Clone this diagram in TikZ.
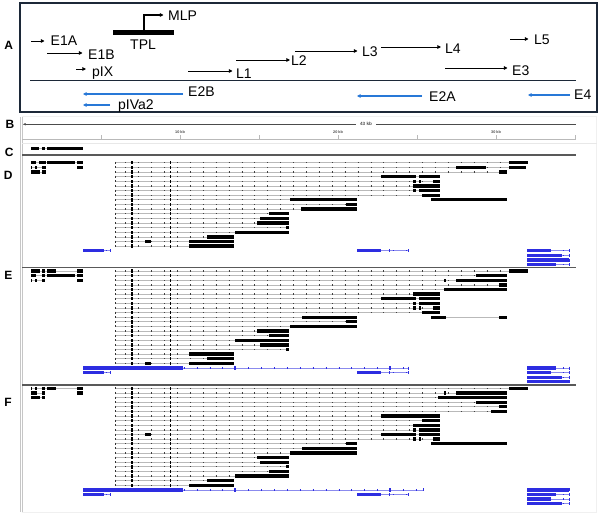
\documentclass[tikz,border=0pt]{standalone}
\usepackage{fontspec}
\setmainfont{Liberation Sans}
\usetikzlibrary{arrows.meta}
\definecolor{navy}{RGB}{28,40,56}
\definecolor{ablue}{RGB}{40,120,215}
\definecolor{igvb}{RGB}{45,45,225}
% late transcript row: y, end, exon list
\newcommand\lrow[3]{%
  \draw[intr] (115,#1) -- (#2,#1);
  \draw[tks] (115,#1) -- (#2,#1);
  \draw[gray!40!black, line width=0.5pt] (115,#1-1) -- (115,#1+1);
  \fill (131.3,#1-1.7) rectangle (132.7,#1+1.7);
  \fill (169.7,#1-1.4) rectangle (170.8,#1+1.4);
  \foreach \a/\b in {#3} {\fill (\a,#1-1.65) rectangle (\b,#1+1.65);}%
}
% extra black transcript on a row: y, start, end, exons
\newcommand\xrow[4]{%
  \draw[intr] (#2,#1) -- (#3,#1);
  \foreach \a/\b in {#4} {\fill (\a,#1-1.65) rectangle (\b,#1+1.65);}%
}
% blue transcript: y, start, end, exons
\newcommand\brow[4]{%
  \draw[bintr] (#2,#1) -- (#3,#1);
  \draw[btks] (#2,#1) -- (#3,#1);
  \draw[igvb, line width=0.6pt] (#3,#1-1.5) -- (#3,#1+1.5);
  \foreach \a/\b in {#4} {\fill[igvb] (\a,#1-1.65) rectangle (\b,#1+1.65);}%
}
\begin{document}
\begin{tikzpicture}[x=1pt,y=-1pt,
  gtxt/.style={font=\fontsize{14}{16}\selectfont, anchor=base west, inner sep=0pt},
  plabel/.style={font=\fontsize{12}{14}\selectfont\bfseries, inner sep=0pt},
  arr/.style={line width=0.9pt, -{Triangle[length=3.6pt,width=3.6pt]}},
  barr/.style={arr, draw=ablue, fill=ablue, line width=1.1pt},
  intr/.style={draw=gray!55, line width=0.7pt},
  tks/.style={draw=gray!50!black, line width=1.3pt, dash pattern=on 0.6pt off 12.3pt, dash phase=2.5pt},
  bintr/.style={draw=igvb!55, line width=0.7pt},
  btks/.style={draw=igvb, line width=1.3pt, dash pattern=on 0.6pt off 12.3pt, dash phase=2.5pt},
  sep/.style={draw=gray!70!black, line width=1.2pt},
  tinyt/.style={font=\fontsize{3.8}{4}\selectfont\bfseries, inner sep=0pt, text=gray!60!black}
]
\useasboundingbox (0,0) rectangle (600,516);
\fill[white] (0,0) rectangle (600,516);

% ---------------- panel A ----------------
\draw[navy, line width=2pt] (20,3) rectangle (597,112);
\node[plabel] (labA) at (8.7,45.2) {A};

\coordinate (e1a0) at (31,41);   \coordinate (e1a1) at (44.5,41);
\draw[arr] (e1a0) -- (e1a1);
\node[gtxt] (tE1A) at (50.5,46) {E1A};
\coordinate (e1b0) at (47,53);   \coordinate (e1b1) at (82.5,53);
\draw[arr] (e1b0) -- (e1b1);
\node[gtxt] (tE1B) at (88,59.3) {E1B};
\coordinate (pix0) at (76,69);   \coordinate (pix1) at (86,69);
\draw[arr] (pix0) -- (pix1);
\node[gtxt] (tpIX) at (92,76.5) {pIX};

\coordinate (tpl0) at (113,33);  \coordinate (tpl1) at (174,33);
\draw[line width=5pt] (tpl0) -- (tpl1);
\coordinate (mlp0) at (144,30.5); \coordinate (mlp1) at (163.5,15);
\draw[arr, line width=1.1pt] (mlp0) |- (mlp1);
\node[gtxt] (tMLP) at (168,20.5) {MLP};
\node[gtxt] (tTPL) at (130,50) {TPL};

\coordinate (l10) at (188,71);   \coordinate (l11) at (232.5,71);
\draw[arr] (l10) -- (l11);
\node[gtxt] (tL1) at (236,78.5) {L1};
\coordinate (l20) at (236,60);   \coordinate (l21) at (290,60);
\draw[arr] (l20) -- (l21);
\node[gtxt] (tL2) at (291,65.5) {L2};
\coordinate (l30) at (295,51);   \coordinate (l31) at (357.5,51);
\draw[arr] (l30) -- (l31);
\node[gtxt] (tL3) at (362,56.5) {L3};
\coordinate (l40) at (381,47);   \coordinate (l41) at (441,47);
\draw[arr] (l40) -- (l41);
\node[gtxt] (tL4) at (445,53.3) {L4};
\coordinate (l50) at (510,39);   \coordinate (l51) at (528.5,39);
\draw[arr] (l50) -- (l51);
\node[gtxt] (tL5) at (534,44.3) {L5};
\coordinate (e30) at (445,68);   \coordinate (e31) at (507.5,68);
\draw[arr] (e30) -- (e31);
\node[gtxt] (tE3) at (512,75.7) {E3};

\coordinate (gen0) at (30,81);   \coordinate (gen1) at (576,81);
\draw[line width=1pt, navy] (gen0) -- (gen1);

\coordinate (e2b0) at (183,94);  \coordinate (e2b1) at (83,94);
\draw[barr] (e2b0) -- (e2b1);
\node[gtxt] (tE2B) at (188,96.5) {E2B};
\coordinate (p4a0) at (110,105); \coordinate (p4a1) at (83,105);
\draw[barr] (p4a0) -- (p4a1);
\node[gtxt] (tpIVa2) at (118,110) {pIVa2};
\coordinate (e2a0) at (422,96);  \coordinate (e2a1) at (357,96);
\draw[barr] (e2a0) -- (e2a1);
\node[gtxt] (tE2A) at (429,101.5) {E2A};
\coordinate (e40) at (570,95);   \coordinate (e41) at (528,95);
\draw[barr] (e40) -- (e41);
\node[gtxt] (tE4) at (574,99.3) {E4};

% ---------------- browser frame ----------------
\draw[gray!12, line width=0.8pt] (22,116) rectangle (596,512);
\draw[gray!45, line width=0.6pt] (20.5,117) -- (20.5,512);
\draw[gray!45, line width=0.6pt] (22.3,117) -- (22.3,512);

% ---------------- panel B ----------------
\node[plabel] (labB) at (10,124) {B};
\coordinate (rul0) at (23,124.3); \coordinate (rul1) at (576,124.3);
\draw[gray!60!black, line width=0.5pt, {Triangle[length=2.5pt,width=2.2pt]}-] (rul0) -- (rul1);
\node[tinyt, font=\fontsize{4.6}{5}\selectfont\bfseries, fill=white, inner xsep=4pt, inner ysep=1pt] (t43) at (366,124.3) {43 kb};
\draw[gray!55, line width=0.7pt] (22,139.3) -- (576,139.3);
\foreach \t in {101,180,259,338,417,496,575} {\draw[gray!55, line width=0.7pt] (\t,135.5) -- (\t,139.3);}
\node[tinyt] (k10) at (180,132.4) {10 kb};
\node[tinyt] (k20) at (338,132.4) {20 kb};
\node[tinyt] (k30) at (496,132.4) {30 kb};
\draw[gray!18, line width=0.6pt] (22,143.3) -- (597,143.3);

% ---------------- panel C ----------------
\node[plabel] (labC) at (9.2,152) {C};
\xrow{148.3}{31}{83.3}{31/38.5,41.5/44.8,47/83.3}
\draw[sep] (22,155) -- (576,155);

% ---------------- panel D ----------------
\node[plabel] (labD) at (8.3,175.8) {D};
\xrow{162.8}{31}{83.3}{31/36,39/45.5,47/75,77/83.3}
\xrow{167.4}{31}{45.7}{31/32.3,35/36.7,41.5/45.7,77/83.3}
\xrow{172.1}{31}{45.7}{31/40,41.7/45.7}

\lrow{162.8}{528}{509/528}
\lrow{167.4}{526}{456/486,509/526}
\lrow{172.1}{507}{499/507}
\lrow{176.7}{440}{381/416,419/440}
\lrow{181.3}{440}{413/416,419/421,433/440}
\lrow{186.0}{440}{413/440}
\lrow{190.6}{440}{413/416,419/440}
\lrow{195.2}{440}{422/440}
\lrow{199.8}{357}{290/357}
\xrow{199.8}{431}{507}{431/507}
\lrow{204.5}{357}{346/357}
\lrow{209.1}{357}{301/357}
\lrow{213.7}{289}{269/289}
\lrow{218.4}{289}{260/289}
\lrow{223.0}{289}{257/289}
\lrow{227.6}{289}{286/289}
\lrow{232.3}{289}{235/289}
\lrow{236.9}{234}{207/234}
\lrow{241.5}{234}{145/151,189/234}
\lrow{246.1}{234}{189/234}
\brow{250.8}{83}{110}{83/104}
\brow{250.8}{357}{408}{357/381,388.5/390}
\brow{250.8}{527}{569}{527/551}
\brow{255.4}{527}{569}{527/562}
\brow{260.0}{527}{569}{527/569}
\brow{264.7}{527}{569}{527/556}
\draw[sep] (22,267.3) -- (576,267.3);

% ---------------- panel E ----------------
\node[plabel] (labE) at (8.3,275.2) {E};
\xrow{271.0}{31}{83.3}{31/40,42/45,47/56,77/83.3}
\xrow{275.6}{31}{83.3}{31/36,42/45,47/75,77/83.3}
\xrow{280.2}{31}{45}{31/32.3,34.5/36.5,42/45,77/83.3}

\lrow{271.0}{528}{509/528}
\lrow{275.6}{507}{476/507}
\lrow{280.2}{507}{444/446,456/507}
\lrow{284.9}{507}{499/507}
\lrow{289.5}{507}{444/507}
\lrow{294.1}{440}{413/440}
\lrow{298.7}{440}{381/416,419/440}
\lrow{303.3}{440}{413/416,419/440}
\lrow{307.9}{440}{413/416,419/421,433/440}
\lrow{312.6}{440}{422/440}
\lrow{317.2}{357}{302/357}
\xrow{317.2}{431}{507}{431/446,499/507}
\lrow{321.8}{357}{346/357}
\lrow{326.4}{357}{290/357}
\lrow{331.0}{289}{257/289}
\lrow{335.6}{289}{269/289}
\lrow{340.3}{289}{235/289}
\lrow{344.9}{289}{260/289}
\lrow{349.5}{289}{286/289}
\lrow{354.1}{234}{189/234}
\lrow{358.7}{234}{207/234}
\lrow{363.3}{234}{145/151,189/234}
\brow{368.0}{83}{408}{83/183,234.3/235.8,389.3/390.8}
\brow{372.6}{83}{110}{83/104}
\brow{372.6}{357}{408}{357/381,388.5/390}
\brow{368.0}{527}{569}{527/556}
\brow{372.6}{527}{569}{527/551}
\brow{377.2}{527}{569}{527/562}
\brow{381.8}{527}{569}{527/569}
\draw[sep] (22,385) -- (576,385);

% ---------------- panel F ----------------
\node[plabel] (labF) at (8,402.8) {F};
\xrow{388.3}{31}{83.3}{31/32.3,34.5/36.5,42/45,47/56,77/83.3}
\xrow{392.9}{31}{45}{31/37,42/45,77/83.3}
\xrow{397.5}{31}{45}{31/40,42/45}

\lrow{388.3}{528}{509/528}
\lrow{392.9}{507}{444/446,456/507}
\lrow{397.5}{507}{438/507}
\lrow{402.2}{507}{476/507}
\lrow{406.8}{507}{499/507}
\lrow{411.4}{507}{491/507}
\lrow{416.0}{440}{381/440}
\lrow{420.6}{440}{422/440}
\lrow{425.2}{440}{413/440}
\lrow{429.9}{440}{413/416,419/440}
\lrow{434.5}{440}{145/151,381/416,419/440}
\lrow{439.1}{440}{413/416,419/421,433/440}
\lrow{443.7}{357}{346/357}
\xrow{443.7}{431}{507}{431/507}
\lrow{448.3}{357}{302/357}
\lrow{452.9}{357}{290/357}
\lrow{457.6}{289}{257/289}
\lrow{462.2}{289}{260/289}
\lrow{466.8}{289}{286/289}
\lrow{471.4}{289}{269/289}
\lrow{476.0}{289}{235/289}
\lrow{480.6}{234}{207/234}
\lrow{485.3}{234}{189/234}
\brow{489.9}{83}{423}{83/183,234.3/235.8,389.3/390.8}
\brow{494.5}{83}{110}{83/104}
\brow{494.5}{357}{408}{357/381,388.5/390}
\brow{489.9}{527}{569}{527/569}
\brow{494.5}{527}{569}{527/556}
\brow{499.1}{527}{569}{527/551}
\brow{503.7}{527}{569}{527/562}
\end{tikzpicture}
\end{document}
